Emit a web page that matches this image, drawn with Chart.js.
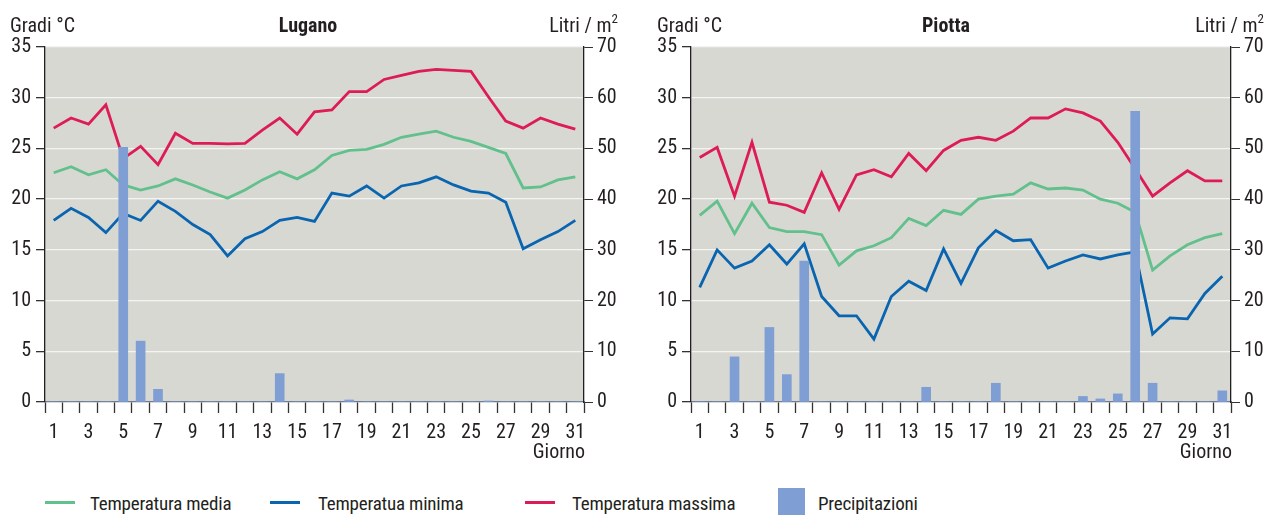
<!DOCTYPE html>
<html>
<head>
<meta charset="utf-8">
<script src="https://cdn.jsdelivr.net/npm/chart.js@4"></script>
<style>
  html, body { margin: 0; padding: 0; background: #fff; }
  body { width: 1266px; height: 515px; position: relative; overflow: hidden;
         font-family: 'Roboto Condensed', 'DejaVu Sans Condensed', sans-serif; color: #231f20; }
  .box { position: absolute; top: 0; }
  .t { position: absolute; font-size: 20px; line-height: 20px; white-space: nowrap; }
  .title { font-weight: bold; }
  sup { font-size: 13px; vertical-align: top; position: relative; top: -6px; }
  .lg { position: absolute; font-size: 19px; line-height: 19px; white-space: nowrap; letter-spacing: -0.2px; }
  .ln { position: absolute; height: 3px; width: 30px; }
</style>
</head>
<body>
<div class="box" style="left:0;width:633px;height:470px;"><canvas id="c1" width="633" height="470"></canvas></div>
<div class="box" style="left:646px;width:620px;height:470px;"><canvas id="c2" width="620" height="470"></canvas></div>

<div class="t" style="left:10px;top:15px;">Gradi °C</div>
<div class="t title" style="left:268px;top:15px;width:80px;text-align:center;">Lugano</div>
<div class="t" style="left:510px;top:15px;width:108px;text-align:right;">Litri / m<sup>2</sup></div>
<div class="t" style="left:510px;top:441px;width:75px;text-align:right;">Giorno</div>

<div class="t" style="left:657px;top:15px;">Gradi °C</div>
<div class="t title" style="left:906px;top:15px;width:80px;text-align:center;">Piotta</div>
<div class="t" style="left:1156px;top:15px;width:108px;text-align:right;">Litri / m<sup>2</sup></div>
<div class="t" style="left:1156px;top:441px;width:76px;text-align:right;">Giorno</div>

<div class="ln" style="left:45px;top:501px;background:#62c08c;"></div>
<div class="lg" style="left:90px;top:494px;">Temperatura media</div>
<div class="ln" style="left:270px;top:501px;background:#0a65b0;"></div>
<div class="lg" style="left:318px;top:494px;">Temperatua minima</div>
<div class="ln" style="left:525px;top:501px;background:#dd1c57;"></div>
<div class="lg" style="left:572px;top:494px;">Temperatura massima</div>
<div style="position:absolute;left:778px;top:488px;width:27px;height:27px;background:#7f9fd4;"></div>
<div class="lg" style="left:818px;top:494px;">Precipitazioni</div>

<script>
const days = Array.from({length: 31}, (_, i) => String(i + 1));
const tempTicks = [0, 5, 10, 15, 20, 25, 30, 35];
const rainTicks = [0, 10, 20, 30, 40, 50, 60, 70];

const luganoMedia = [22.6,23.2,22.4,22.9,21.4,20.9,21.3,22.0,21.4,20.7,20.1,20.9,21.9,22.7,22.0,22.9,24.3,24.8,24.9,25.4,26.1,26.4,26.7,26.1,25.7,25.1,24.5,21.1,21.2,21.9,22.2];
const luganoMin   = [17.9,19.1,18.2,16.7,18.6,17.9,19.8,18.8,17.5,16.5,14.4,16.1,16.8,17.9,18.2,17.8,20.6,20.3,21.3,20.1,21.3,21.6,22.2,21.4,20.8,20.6,19.7,15.1,16.0,16.8,17.9];
const luganoMax   = [27.0,28.0,27.4,29.3,24.0,25.2,23.4,26.5,25.5,25.5,25.45,25.5,26.8,28.0,26.4,28.6,28.8,30.6,30.6,31.8,32.2,32.6,32.8,32.7,32.6,30.1,27.7,27.0,28.0,27.4,26.9];
const luganoRain  = [0,0,0,0,50.2,12.0,2.5,0,0,0,0,0,0,5.6,0,0,0,0.4,0,0,0,0,0,0,0,0.2,0,0,0,0,0];

const piottaMedia = [18.4,19.8,16.6,19.6,17.2,16.8,16.8,16.5,13.5,14.9,15.4,16.2,18.1,17.4,18.9,18.5,20.0,20.3,20.5,21.6,21.0,21.1,20.9,20.0,19.6,18.7,13.0,14.4,15.5,16.2,16.6];
const piottaMin   = [11.3,15.0,13.2,13.9,15.5,13.6,15.6,10.4,8.5,8.5,6.2,10.4,11.9,11.0,15.1,11.7,15.2,16.9,15.9,16.0,13.2,13.9,14.5,14.1,14.5,14.8,6.7,8.3,8.2,10.7,12.4];
const piottaMax   = [24.1,25.1,20.3,25.6,19.7,19.4,18.7,22.6,19.0,22.4,22.9,22.2,24.5,22.8,24.8,25.8,26.1,25.8,26.7,28.0,28.0,28.9,28.5,27.7,25.6,23.0,20.3,21.6,22.8,21.8,21.8];
const piottaRain  = [0,0,8.9,0,14.7,5.4,27.8,0,0,0,0,0,0,2.9,0,0,0,3.7,0,0,0,0,1.1,0.6,1.6,57.3,3.7,0,0,0,2.2];

const FONT = "'Roboto Condensed', 'DejaVu Sans Condensed', sans-serif";
Chart.defaults.font.family = FONT;
Chart.defaults.color = '#231f20';

const bgPlugin = {
  id: 'plotBg',
  beforeDraw(chart) {
    const a = chart.chartArea, ctx = chart.ctx;
    ctx.save();
    ctx.fillStyle = '#d8d8d3';
    ctx.fillRect(a.left, a.top, a.right - a.left, a.bottom - a.top);
    ctx.restore();
  }
};

function makeChart(id, media, minT, maxT, rain, rightWidth) {
  return new Chart(document.getElementById(id), {
    data: {
      labels: days,
      datasets: [
        { type: 'bar', label: 'Precipitazioni', data: rain, yAxisID: 'y2', backgroundColor: '#7f9fd4', barThickness: 9, order: 0 },
        { type: 'line', label: 'Temperatura media', data: media, yAxisID: 'y', borderColor: '#62c08c', borderWidth: 2.8, pointRadius: 0, tension: 0, order: 1 },
        { type: 'line', label: 'Temperatua minima', data: minT, yAxisID: 'y', borderColor: '#0a65b0', borderWidth: 2.8, pointRadius: 0, tension: 0, order: 1 },
        { type: 'line', label: 'Temperatura massima', data: maxT, yAxisID: 'y', borderColor: '#dd1c57', borderWidth: 2.8, pointRadius: 0, tension: 0, order: 1 }
      ]
    },
    options: {
      responsive: false,
      animation: false,
      devicePixelRatio: 1,
      layout: { padding: { top: 47, left: 0, right: 0, bottom: 0 } },
      plugins: { legend: { display: false }, tooltip: { enabled: false } },
      scales: {
        x: {
          type: 'category',
          offset: true,
          grid: { offset: true, drawOnChartArea: false, tickLength: 11, tickColor: '#333', tickWidth: 1.3 },
          border: { color: '#6e7b93', width: 1.2 },
          ticks: { autoSkip: false, maxRotation: 0, padding: 8, font: { size: 20 },
                   callback: (v, i) => (i % 2 === 0 ? days[i] : '') },
          afterFit: s => { s.height = 68; }
        },
        y: {
          position: 'left', min: 0, max: 35,
          afterBuildTicks: s => { s.ticks = tempTicks.map(v => ({ value: v })); },
          grid: { color: '#f4f4f2', lineWidth: 1.3, tickLength: 9, tickColor: '#333', drawTicks: true },
          border: { color: '#231f20', width: 1.3 },
          ticks: { padding: 5, font: { size: 20 } },
          afterFit: s => { s.width = 45; }
        },
        y2: {
          position: 'right', min: 0, max: 70,
          afterBuildTicks: s => { s.ticks = rainTicks.map(v => ({ value: v })); },
          grid: { drawOnChartArea: false, tickLength: 9, tickColor: '#333' },
          border: { color: '#231f20', width: 1.3 },
          ticks: { padding: 4, font: { size: 20 } },
          afterFit: s => { s.width = rightWidth; }
        }
      }
    },
    plugins: [bgPlugin]
  });
}

makeChart('c1', luganoMedia, luganoMin, luganoMax, luganoRain, 49);
makeChart('c2', piottaMedia, piottaMin, piottaMax, piottaRain, 35);
</script>
</body>
</html>
